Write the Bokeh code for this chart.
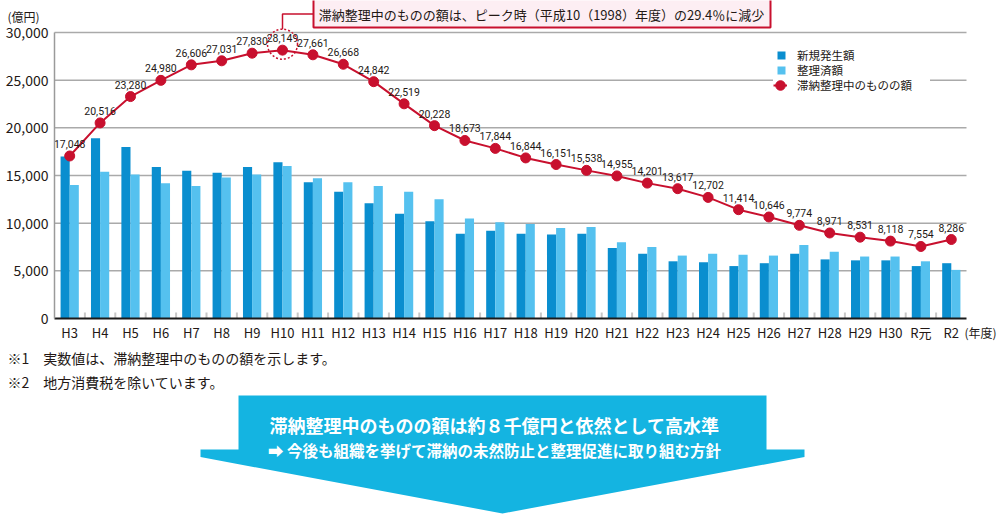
from bokeh.plotting import figure
from bokeh.models import (Range1d, FixedTicker, NumeralTickFormatter,
                          Legend, LegendItem, Label, ColumnDataSource)
from bokeh.transform import dodge
from bokeh.core.properties import value
from bokeh.embed import file_html
from bokeh.resources import INLINE

# ---------------- data ----------------
years = ["H3", "H4", "H5", "H6", "H7", "H8", "H9", "H10", "H11", "H12", "H13", "H14",
         "H15", "H16", "H17", "H18", "H19", "H20", "H21", "H22", "H23", "H24", "H25",
         "H26", "H27", "H28", "H29", "H30", "R元", "R2"]
new_amount = [17000, 18900, 18000, 15900, 15500, 15300, 15900, 16400, 14300, 13300,
              12100, 11000, 10200, 8900, 9200, 8900, 8800, 8900, 7400, 6800,
              6000, 5900, 5500, 5800, 6800, 6200, 6100, 6100, 5500, 5800]
settled = [14000, 15400, 15100, 14200, 13900, 14800, 15100, 16000, 14700, 14300,
           13900, 13300, 12500, 10500, 10100, 9900, 9500, 9600, 8000, 7500,
           6600, 6800, 6700, 6600, 7700, 7000, 6500, 6500, 6000, 5100]
balance = [17048, 20516, 23280, 24980, 26606, 27031, 27830, 28149, 27661, 26668,
           24842, 22519, 20228, 18673, 17844, 16844, 16151, 15538, 14955, 14201,
           13617, 12702, 11414, 10646, 9774, 8971, 8531, 8118, 7554, 8286]
y_ticks = [0, 5000, 10000, 15000, 20000, 25000, 30000]

series_names = ["新規発生額", "整理済額", "滞納整理中のものの額"]
unit_label = "(億円)"
year_label = "(年度)"
callout_text = "滞納整理中のものの額は、ピーク時（平成10（1998）年度）の29.4％に減少"
notes = ["※1　実数値は、滞納整理中のものの額を示します。", "※2　地方消費税を除いています。"]
arrow_line1 = "滞納整理中のものの額は約８千億円と依然として高水準"
arrow_line2 = "➡ 今後も組織を挙げて滞納の未然防止と整理促進に取り組む方針"

# ---------------- style ----------------
DARK = "#0a8ecf"
LIGHT = "#55c1ef"
RED = "#c8102e"
CYAN = "#14b4e1"
TXT = "#231815"
FONT = "Noto Sans CJK JP"
W, H = 1000, 519

Y_MAX = y_ticks[-1]
N = len(years)
# page-pixel geometry of the plotting area (decoration helpers)
FR_LEFT, FR_RIGHT, FR_BOTTOM, FR_TOP_AXIS = 54.0, 966.0, 318.0, 32.0
CAT_PX = (FR_RIGHT - FR_LEFT) / N
PX_PER_Y = (FR_BOTTOM - FR_TOP_AXIS) / Y_MAX


def px(x):
    """page x -> data x (category i is centred on i)"""
    return (x - FR_LEFT) / CAT_PX - 0.5


def py(y):
    """page y -> data y"""
    return (FR_BOTTOM - y) / PX_PER_Y


idx = list(range(N))
src = ColumnDataSource(dict(idx=idx, years=years, new=new_amount, settled=settled,
                            balance=balance, labels=[f"{v:,}" for v in balance]))

p = figure(x_range=Range1d(px(0), px(W)), y_range=Range1d(py(H), py(0)),
           width=W, height=H, output_backend="svg", toolbar_location=None,
           min_border=0, outline_line_color=None, background_fill_color="white")

# axes (fixed inside the full-canvas frame)
p.xaxis.fixed_location = 0
p.xaxis.bounds = (-0.5, N - 0.5)
p.xaxis.ticker = FixedTicker(ticks=idx)
p.xaxis.major_label_overrides = {i: y for i, y in zip(idx, years)}
p.xaxis.axis_line_color = "#1a1a1a"
p.xaxis.axis_line_width = 2
p.xaxis.major_tick_line_color = None
p.xaxis.minor_tick_line_color = None
p.xaxis.major_tick_out = 0
p.xaxis.major_tick_in = 0
p.xaxis.major_label_text_font = FONT
p.xaxis.major_label_text_font_size = "13px"
p.xaxis.major_label_text_color = TXT
p.xaxis.major_label_standoff = 4

p.yaxis.fixed_location = -0.5
p.yaxis.bounds = (0, Y_MAX)
p.yaxis.ticker = FixedTicker(ticks=y_ticks)
p.yaxis.formatter = NumeralTickFormatter(format="0,0")
p.yaxis.major_tick_line_color = None
p.yaxis.minor_tick_line_color = None
p.yaxis.major_tick_out = 0
p.yaxis.major_tick_in = 0
p.yaxis.axis_line_color = "#9a9a9a"
p.yaxis.axis_line_width = 1.5
p.yaxis.major_label_text_font = FONT
p.yaxis.major_label_text_font_size = "14px"
p.yaxis.major_label_text_color = TXT
p.yaxis.major_label_standoff = 6

p.grid.visible = False

# horizontal gridlines from the tick list
grid_src = ColumnDataSource(dict(t=y_ticks[1:]))
p.segment(x0=-0.5, x1=N - 0.5, y0="t", y1="t", source=grid_src,
          line_color="#aaaaaa", line_width=1.5)

# category boundary ticks on the x axis
tick_src = ColumnDataSource(dict(idx=idx[1:]))
p.segment(x0=dodge("idx", -0.5), x1=dodge("idx", -0.5), y0=0, y1=6 / PX_PER_Y,
          source=tick_src, line_color="#c8c8c8", line_width=2)

# bars
r_new = p.vbar(x=dodge("idx", -0.15), top="new", width=0.3, source=src,
               fill_color=DARK, line_color=None)
r_set = p.vbar(x=dodge("idx", 0.15), top="settled", width=0.3, source=src,
               fill_color=LIGHT, line_color=None)

# line
r_line = p.line(x="idx", y="balance", source=src, line_color=RED, line_width=2)
r_dot = p.ellipse(x="idx", y="balance", width=10, height=10, width_units="screen",
                  height_units="screen", source=src, fill_color=RED, line_color=RED)
p.text(x="idx", y="balance", text="labels", source=src, text_align="center",
       text_baseline="bottom", y_offset=-8, text_font_size="10.5px",
       text_font=value("Roboto"), text_color=TXT)

# peak highlight + callout
peak = balance.index(max(balance))
circ_y = balance[peak] + 6 / PX_PER_Y
p.ellipse(x=[peak], y=[circ_y], width=30, height=30, width_units="screen",
          height_units="screen", fill_color=None, line_color=RED, line_width=1.5,
          line_dash="2 2")
p.line(x=[peak, peak, px(313)],
       y=[circ_y + 15 / PX_PER_Y, py(13.5), py(13.5)], line_color=RED, line_width=1.5)
p.quad(left=[px(313)], right=[px(770)], bottom=[py(27)], top=[py(-6)],
       fill_color="#fdeef3", line_color=RED, line_width=2)
p.text(x=[px(541)], y=[py(13.5)], text=[callout_text], text_align="center",
       text_baseline="middle", text_font_size="13px", text_font=value(FONT), text_color=TXT)


# legends (one per row, for precise placement)
def make_legend(label, renderers, loc, gw, gh, standoff):
    return Legend(items=[LegendItem(label=label, renderers=renderers)],
                  location=loc, padding=0, spacing=0, glyph_width=gw, glyph_height=gh,
                  label_height=gh, label_width=133, label_standoff=standoff,
                  label_text_font=FONT, label_text_font_size="11.5px", label_text_color=TXT,
                  background_fill_color="white", background_fill_alpha=1,
                  border_line_color=None, margin=0)


p.add_layout(make_legend(series_names[0], [r_new], (776, 456), 10, 10, 11))
p.add_layout(make_legend(series_names[1], [r_set], (776, 441), 10, 10, 11))
p.add_layout(make_legend(series_names[2], [r_line, r_dot], (773, 426), 14, 12, 10))

# outer texts
p.add_layout(Label(x=px(7), y=py(16), text=unit_label, text_baseline="middle",
                   text_font=FONT, text_font_size="12px", text_color=TXT))
p.add_layout(Label(x=px(964), y=py(332), text=year_label, text_baseline="middle",
                   text_font=FONT, text_font_size="12px", text_color=TXT))
p.add_layout(Label(x=px(7), y=py(357), text=notes[0], text_baseline="middle",
                   text_font=FONT, text_font_size="14px", text_color=TXT))
p.add_layout(Label(x=px(7), y=py(381), text=notes[1], text_baseline="middle",
                   text_font=FONT, text_font_size="14px", text_color=TXT))

# big arrow
ax = [238, 766, 766, 804, 804, 502, 200, 200, 238]
ay = [395, 395, 449, 449, 456.5, 513, 456.5, 449, 449]
p.patch(x=[px(v) for v in ax], y=[py(v) for v in ay], fill_color=CYAN, line_color=None)
p.add_layout(Label(x=px(494), y=py(424), text=arrow_line1, text_align="center",
                   text_baseline="middle", text_font=FONT, text_font_size="18px",
                   text_font_style="bold", text_color="white"))
p.add_layout(Label(x=px(494), y=py(449), text=arrow_line2, text_align="center",
                   text_baseline="middle", text_font=FONT, text_font_size="15.5px",
                   text_font_style="bold", text_color="white"))

open("out.html", "w").write(file_html(p, INLINE))
